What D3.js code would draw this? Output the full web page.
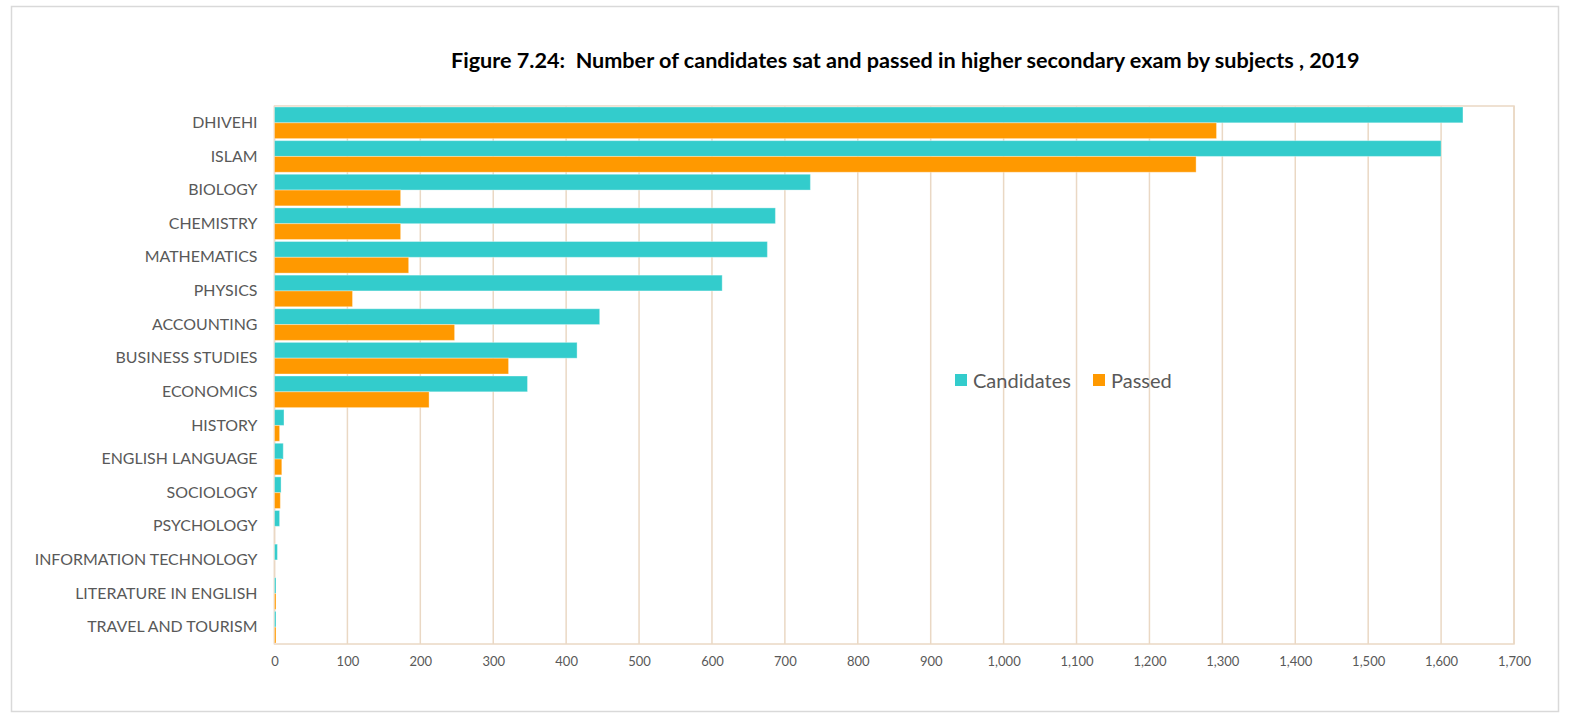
<!DOCTYPE html>
<html>
<head>
<meta charset="utf-8">
<script src="https://cdn.jsdelivr.net/npm/d3@7"></script>
<style>
	body { margin: 0; background: #fff; }
	svg text { font-family: Lato, "Open Sans", sans-serif; }
</style>
</head>
<body>
<div id="main-view"></div>
<script>
var subjects = ["DHIVEHI", "ISLAM", "BIOLOGY", "CHEMISTRY", "MATHEMATICS", "PHYSICS", "ACCOUNTING",
	"BUSINESS STUDIES", "ECONOMICS", "HISTORY", "ENGLISH LANGUAGE", "SOCIOLOGY", "PSYCHOLOGY",
	"INFORMATION TECHNOLOGY", "LITERATURE IN ENGLISH", "TRAVEL AND TOURISM"];
var candidates = [1630, 1600, 735, 687, 676, 614, 446, 415, 347, 13, 12, 9, 7, 4, 2, 2];
var passed = [1292, 1264, 173, 173, 184, 107, 247, 321, 212, 7, 10, 8, 0, 0, 2, 1];
var seriesNames = ["Candidates", "Passed"];
var seriesColors = ["#33cccc", "#ff9900"];
var xTicks = d3.range(0, 1800, 100);
var title = "Figure 7.24:  Number of candidates sat and passed in higher secondary exam by subjects , 2019";

var width = 1570, height = 722;
var plot = { left: 274.5, right: 1514, top: 106, bottom: 644 };
var gridColor = "#ead8c4";
var textColor = "#595959";

var svg = d3.select("#main-view")
	.append("svg")
	.attr("width", width)
	.attr("height", height);

// outer frame
svg.append("rect")
	.attr("x", 11.5)
	.attr("y", 6.5)
	.attr("width", 1547)
	.attr("height", 705)
	.attr("fill", "#fff")
	.attr("stroke", "#d9d9d9")
	.attr("stroke-width", 1.5);

// fit a text element to a target width by changing its font size
function fitWidth(sel, target) {
	var w = sel.node().getComputedTextLength();
	var fs = parseFloat(sel.attr("font-size"));
	sel.attr("font-size", fs * target / w);
	return fs * target / w;
}

var titleText = svg.append("text")
	.attr("x", 451)
	.attr("y", 60)
	.attr("dominant-baseline", "central")
	.attr("font-size", 19)
	.attr("font-weight", "bold")
	.attr("fill", "#000")
	.style("white-space", "pre")
	.text(title);
fitWidth(titleText, 909);

var x = d3.scaleLinear()
	.domain([0, 1700])
	.range([plot.left, plot.right]);

var y = d3.scaleBand()
	.domain(subjects)
	.range([plot.top, plot.bottom])
	.paddingInner(0.06)
	.paddingOuter(0.03);

var ySub = d3.scaleBand()
	.domain(seriesNames)
	.range([0, y.bandwidth()]);

// gridlines
svg.append("g")
	.selectAll("line")
	.data(xTicks)
	.enter()
	.append("line")
	.attr("x1", function(d) { return x(d) })
	.attr("x2", function(d) { return x(d) })
	.attr("y1", plot.top)
	.attr("y2", plot.bottom)
	.attr("stroke", gridColor)
	.attr("stroke-width", 1.5);

svg.append("rect")
	.attr("x", plot.left)
	.attr("y", plot.top)
	.attr("width", plot.right - plot.left)
	.attr("height", plot.bottom - plot.top)
	.attr("fill", "none")
	.attr("stroke", gridColor)
	.attr("stroke-width", 1.5);

// bars
var rows = subjects.map(function(s, i) {
	return { key: s, values: [candidates[i], passed[i]] }
});

var groups = svg.append("g")
	.selectAll("g")
	.data(rows)
	.enter()
	.append("g")
	.attr("transform", function(d) {
		return "translate(0," + y(d.key) + ")";
	});

groups.selectAll("rect")
	.data(function(d) {
		return d.values.map(function(v, j) {
			return { name: seriesNames[j], value: v, color: seriesColors[j] }
		})
	})
	.enter()
	.filter(function(d) { return d.value > 0 })
	.append("rect")
	.attr("x", x(0))
	.attr("y", function(d) { return ySub(d.name) })
	.attr("width", function(d) { return Math.max(x(d.value) - x(0), 1.5) })
	.attr("height", ySub.bandwidth())
	.attr("fill", function(d) { return d.color })
	.attr("stroke", "#fff")
	.attr("stroke-opacity", 0.35)
	.attr("stroke-width", 1);

// x axis
var xAxis = d3.axisBottom(x)
	.tickValues(xTicks)
	.tickFormat(d3.format(","))
	.tickSize(0)
	.tickPadding(13);

var xg = svg.append("g")
	.attr("transform", "translate(0," + plot.bottom + ")")
	.call(xAxis);
xg.select(".domain").remove();
xg.selectAll("text")
	.attr("font-size", 13)
	.attr("font-family", "Lato, sans-serif")
	.attr("fill", textColor);

// y axis labels
var yAxis = d3.axisLeft(y)
	.tickSize(0)
	.tickPadding(17);

var yg = svg.append("g")
	.attr("transform", "translate(" + plot.left + ",0)")
	.call(yAxis);
yg.select(".domain").remove();
yg.selectAll("text")
	.attr("font-size", 16)
	.attr("font-family", "Lato, sans-serif")
	.attr("fill", textColor);

var longest = yg.selectAll("text").filter(function(d) { return d == "INFORMATION TECHNOLOGY" });
var catSize = fitWidth(longest, 223);
yg.selectAll("text").attr("font-size", catSize);

// legend
var legendX = [955, 1093];
var legend = svg.append("g")
	.selectAll("g")
	.data(seriesNames)
	.enter()
	.append("g")
	.attr("transform", function(d, i) {
		return "translate(" + legendX[i] + ",380)";
	});

legend.append("rect")
	.attr("x", 0)
	.attr("y", -6)
	.attr("width", 12)
	.attr("height", 12)
	.attr("fill", function(d, i) { return seriesColors[i] });

legend.append("text")
	.attr("x", 18)
	.attr("y", 0)
	.attr("dominant-baseline", "central")
	.attr("font-size", 19)
	.attr("fill", textColor)
	.text(function(d) { return d });

var candLabel = legend.filter(function(d, i) { return i == 0 }).select("text");
var legendSize = fitWidth(candLabel, 98);
legend.selectAll("text").attr("font-size", legendSize);
</script>
</body>
</html>
